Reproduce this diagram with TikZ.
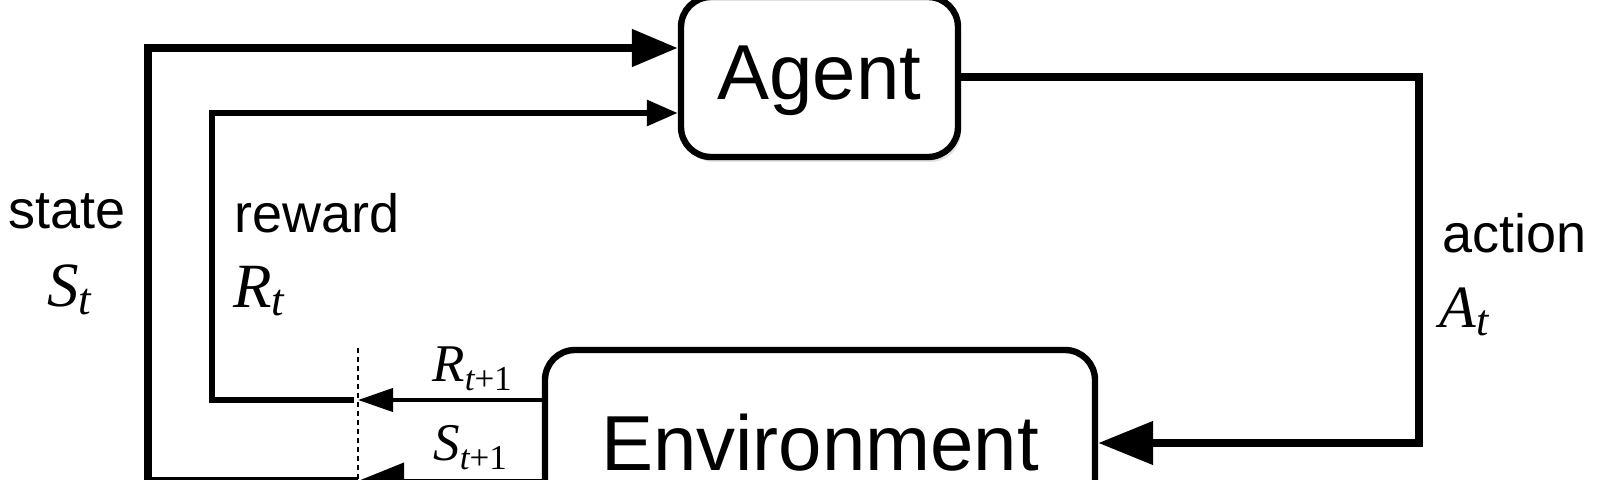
\documentclass[tikz,border=0pt]{standalone}
\usepackage{fontspec}
\setmainfont{Liberation Sans}
\newfontfamily\tms{Liberation Serif}
\usetikzlibrary{arrows.meta,shadows,calc}
\newcommand{\fsz}[1]{\fontsize{#1}{#1}\selectfont}
\newcommand{\mlbl}[5]{{\tms\fsz{#1}\itshape #2}\raisebox{-#5}{\tms\fsz{#3}#4}}
\begin{document}
\begin{tikzpicture}[x=0.5pt,y=-0.5pt,
  box/.style={draw, line width=3.2pt, rounded corners=15pt, fill=white, inner sep=0pt,
    drop shadow={shadow xshift=1.5pt, shadow yshift=-2.5pt, opacity=0.22}},
  lbl/.style={inner sep=0pt, anchor=base west, font=\fsz{27pt}},
  mlb/.style={inner sep=0pt, anchor=base west},
  bighead/.style={-{Triangle[length=23pt,width=18pt]}},
  smallhead/.style={-{Triangle[length=15.5pt,width=12.5pt]}},
  statewire/.style={line width=4pt, bighead},
  rewardwire/.style={line width=3pt, smallhead},
  actionwire/.style={line width=4pt, -{Triangle[length=27.5pt,width=21pt]}},
  rnext/.style={line width=2pt, -{Triangle[length=17.5pt,width=11.5pt]}},
  snext/.style={line width=2pt, bighead},
  cut/.style={line width=0.6pt, dash pattern=on 2.5pt off 2pt}
]
\useasboundingbox (0,0) rectangle (1600,480);
\clip (0,0) rectangle (1600,480);

% boxes
\node[box, minimum width=138.5pt, minimum height=80pt, font=\fsz{39pt},
      text height=23pt, text depth=0pt] (agent) at (819.5,77) {Agent};
\node[box, minimum width=275pt, minimum height=93pt, font=\fsz{39pt},
      text height=27pt, text depth=0pt] (env) at (820,443) {Environment};

% helper coordinates
\coordinate (sx) at (358,481);
\coordinate (rx) at (358,400);
\coordinate (rend) at (354,400);
\coordinate (stop) at (148,48);
\coordinate (rtop) at (212,113);
\coordinate (ac) at (1419,443);
\coordinate (dtop) at (358,348);
\coordinate (dbot) at (358,490);

% dashed cut line
\draw[cut] (dtop) -- (dbot);

% environment -> cut
\draw[rnext] (env.west |- rx) -- (rx);
\draw[snext] (env.west |- sx) -- (sx);

% state and reward back to agent
\draw[statewire] (sx) -| (stop) -- (agent.west |- stop);
\draw[rewardwire] (rend) -| (rtop) -- (agent.west |- rtop);

% action
\draw[actionwire] (agent.east) -| (ac) -- (env.east);

% labels
\node[lbl] (lstate) at (8,229) {state};
\node[mlb] (lst) at (47,307) {\mlbl{31.5pt}{S}{22.5pt}{\itshape t}{4pt}};
\node[lbl] (lreward) at (234,233) {reward};
\node[mlb] (lrt) at (233,308) {\mlbl{31.5pt}{R}{22.5pt}{\itshape t}{4pt}};
\node[lbl] (laction) at (1442,253) {action};
\node[mlb] (lat) at (1439,328) {\mlbl{30pt}{A}{22pt}{\itshape t}{4pt}};
\node[mlb] (lrn) at (432,382) {\mlbl{26.5pt}{R}{17.5pt}{{\itshape t}+1}{4.5pt}};
\node[mlb] (lsn) at (433,460) {\mlbl{26.5pt}{S}{17.5pt}{{\itshape t}+1}{4.5pt}};
\end{tikzpicture}
\end{document}
